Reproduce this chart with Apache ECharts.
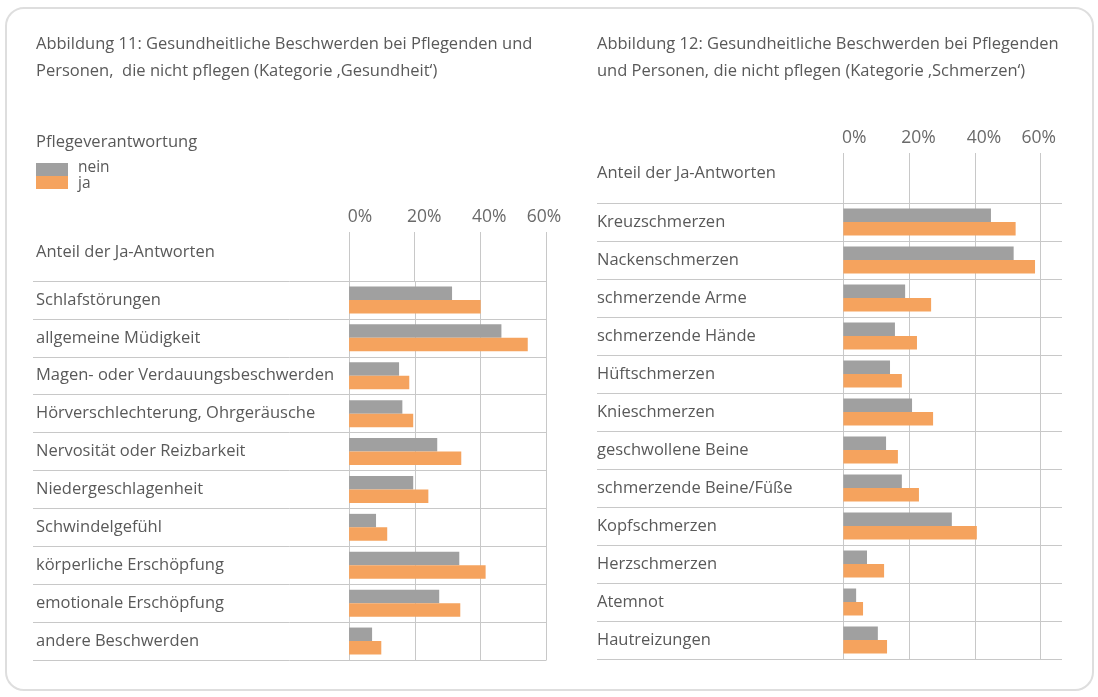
<!DOCTYPE html>
<html>
<head>
<meta charset="utf-8">
<script src="https://cdn.jsdelivr.net/npm/echarts@6/dist/echarts.min.js"></script>
<style>
html,body{margin:0;padding:0;background:#fff;}
#c{width:1098px;height:697px;}
</style>
</head>
<body>
<div id="c"></div>
<script>
// ---- data ----
const leftCategories = ['Schlafstörungen','allgemeine Müdigkeit','Magen- oder Verdauungsbeschwerden','Hörverschlechterung, Ohrgeräusche','Nervosität oder Reizbarkeit','Niedergeschlagenheit','Schwindelgefühl','körperliche Erschöpfung','emotionale Erschöpfung','andere Beschwerden'];
const leftNein = [31.3, 46.3, 15.2, 16.2, 26.8, 19.5, 8.2, 33.5, 27.4, 7.0];
const leftJa   = [40.0, 54.3, 18.3, 19.5, 34.1, 24.1, 11.6, 41.5, 33.8, 9.8];

const rightCategories = ['Kreuzschmerzen','Nackenschmerzen','schmerzende Arme','schmerzende Hände','Hüftschmerzen','Knieschmerzen','geschwollene Beine','schmerzende Beine/Füße','Kopfschmerzen','Herzschmerzen','Atemnot','Hautreizungen'];
const rightNein = [44.9, 51.8, 18.8, 15.7, 14.2, 20.9, 13.0, 17.8, 33.0, 7.2, 3.9, 10.5];
const rightJa   = [52.4, 58.3, 26.7, 22.4, 17.8, 27.3, 16.6, 23.0, 40.6, 12.4, 6.0, 13.3];

const tickValues = [0, 20, 40, 60];
const seriesNames = ['nein', 'ja'];
const leftTitle = 'Abbildung 11: Gesundheitliche Beschwerden bei Pflegenden und\nPersonen,  die nicht pflegen (Kategorie \u201AGesundheit\u2018)';
const rightTitle = 'Abbildung 12: Gesundheitliche Beschwerden bei Pflegenden\nund Personen, die nicht pflegen (Kategorie \u201ASchmerzen\u2018)';
const legendTitle = 'Pflegeverantwortung';
const headerText = 'Anteil der Ja-Antworten';

// ---- styles ----
const FONT = 'Open Sans';
const TXT = '#595959';
const GRID = '#c8c8c8';
const GRAY = '#a0a0a0';
const ORANGE = '#f5a35e';
const FS = 16.5;

const chart = echarts.init(document.getElementById('c'), null, {renderer: 'canvas'});

function tickFormatter(v) {
  const k = 't' + tickValues.indexOf(v);
  return '{' + k + '|' + v + '%}';
}
const tickBase = {fontSize: 17.5, color: '#6a6a6a', fontFamily: FONT};
const tickRich = {
  t0: Object.assign({padding: [0, 0, 0, 22]}, tickBase),
  t1: Object.assign({padding: [0, 0, 0, 19]}, tickBase),
  t2: Object.assign({padding: [0, 0, 0, 18]}, tickBase),
  t3: Object.assign({padding: [0, 4, 0, 0]}, tickBase)
};

function headerX(gridIndex) {
  return {
    gridIndex: gridIndex, type: 'value', position: 'top', min: 0, max: 60, interval: 20,
    axisLine: {show: false}, axisTick: {show: false},
    axisLabel: {show: true, margin: 6, formatter: tickFormatter, rich: tickRich},
    splitLine: {show: true, lineStyle: {color: GRID, width: 1}}
  };
}
function bodyX(gridIndex, min, max) {
  return {
    gridIndex: gridIndex, type: 'value', min: min, max: max, show: false,
    splitLine: {show: false}
  };
}
function bodyY(gridIndex, cats, margin) {
  return {
    gridIndex: gridIndex, type: 'category', data: cats, inverse: true,
    axisLine: {show: false}, axisTick: {show: false},
    axisLabel: {inside: true, margin: margin, color: TXT, fontSize: FS, fontFamily: FONT},
    splitLine: {show: true, lineStyle: {color: GRID, width: 1}}
  };
}
function vlines() {
  return {
    silent: true, symbol: ['none', 'none'], z: 1, animation: false,
    label: {show: false},
    lineStyle: {color: GRID, type: 'solid', width: 1},
    data: tickValues.map(v => ({xAxis: v}))
  };
}
function bar(name, xi, yi, data, color, withLines) {
  const s = {
    name: name, type: 'bar', xAxisIndex: xi, yAxisIndex: yi, data: data,
    barWidth: 13.5, barGap: '0%', z: 3,
    itemStyle: {color: color}, animation: false, silent: true
  };
  if (withLines) s.markLine = vlines();
  return s;
}
function titleStyle(fs, lh) {
  return {color: TXT, fontSize: fs, fontWeight: 'normal', lineHeight: lh, fontFamily: FONT};
}

const option = {
  backgroundColor: '#fff',
  animation: false,
  textStyle: {fontFamily: FONT},
  graphic: [{
    type: 'rect', silent: true, z: -10,
    shape: {x: 6, y: 8, width: 1087, height: 682, r: 18},
    style: {fill: '#fff', stroke: '#dedede', lineWidth: 2}
  }],
  title: [
    {text: leftTitle, left: 36, top: 31, padding: 0, textStyle: titleStyle(16.5, 27)},
    {text: rightTitle, left: 597, top: 31, padding: 0, textStyle: titleStyle(16.5, 27)},
    {text: legendTitle, left: 36, top: 132, padding: 0, textStyle: titleStyle(FS, 20)},
    {text: headerText, left: 36, top: 242, padding: 0, textStyle: titleStyle(FS, 20)},
    {text: headerText, left: 597, top: 163, padding: 0, textStyle: titleStyle(FS, 20)}
  ],
  legend: [
    { // swatches
      data: seriesNames, orient: 'vertical', left: 36, top: 163, padding: 0,
      itemGap: 0, itemWidth: 32, itemHeight: 13, icon: 'rect', selectedMode: false,
      formatter: function () { return ''; },
      textStyle: {fontSize: 10, lineHeight: 13}
    },
    { // texts
      data: seriesNames, orient: 'vertical', left: 36, top: 160, padding: 0,
      itemGap: 0, itemWidth: 37, itemHeight: 13, icon: 'rect', selectedMode: false,
      itemStyle: {opacity: 0},
      textStyle: {color: TXT, fontSize: 15.5, lineHeight: 13, fontFamily: FONT}
    }
  ],
  grid: [
    {left: 349, top: 232, width: 197, height: 49, containLabel: false},
    {left: 33, top: 281, width: 513.5, height: 379, containLabel: false},
    {left: 843.3, top: 153, width: 197.4, height: 50, containLabel: false},
    {left: 597, top: 203, width: 465, height: 456, containLabel: false}
  ],
  xAxis: [
    headerX(0),
    bodyX(1, -96.04, 60),
    headerX(2),
    bodyX(3, -74.9, 66.5)
  ],
  yAxis: [
    {gridIndex: 0, type: 'value', show: false, splitLine: {show: false}},
    bodyY(1, leftCategories, 3),
    {gridIndex: 2, type: 'value', show: false, splitLine: {show: false}},
    bodyY(3, rightCategories, 0)
  ],
  series: [
    bar(seriesNames[0], 1, 1, leftNein, GRAY, true),
    bar(seriesNames[1], 1, 1, leftJa, ORANGE, false),
    bar(seriesNames[0], 3, 3, rightNein, GRAY, true),
    bar(seriesNames[1], 3, 3, rightJa, ORANGE, false)
  ]
};
chart.setOption(option);
</script>
</body>
</html>
